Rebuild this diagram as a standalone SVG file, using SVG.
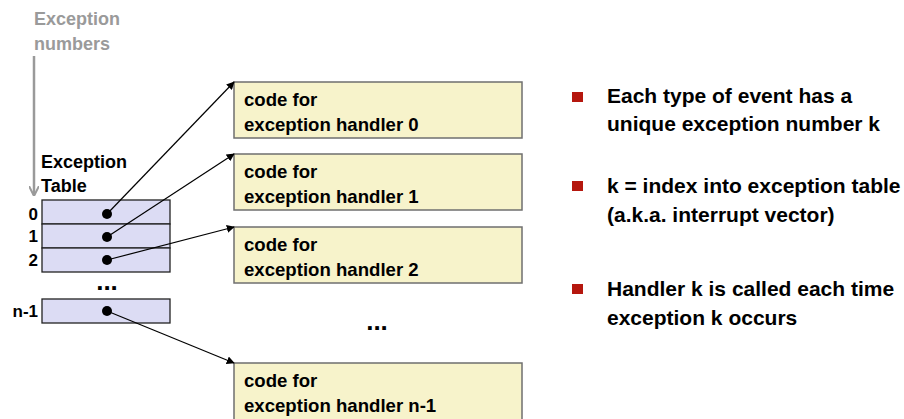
<svg xmlns="http://www.w3.org/2000/svg" width="904" height="419" viewBox="0 0 904 419">
  <style>
    .t { font-family: "Liberation Sans", Arial, sans-serif; font-weight: bold; fill: #000; }
    .code { font-size: 18.6px; }
    .note { font-size: 21px; }
    .handler { fill: #f7f3cb; stroke: #6f6f6f; stroke-width: 1.5; }
    .slot { fill: #dcdcf4; stroke: #222; stroke-width: 1.3; }
    .conn { stroke: #000; stroke-width: 1.2; fill: none; marker-end: url(#arrow); }
    .bullet { fill: #b5170e; }
  </style>
  <defs>
    <marker id="arrow" viewBox="0 0 10 10" refX="9" refY="5" markerWidth="8" markerHeight="8" markerUnits="userSpaceOnUse" orient="auto">
      <path d="M0,0 L10,5 L0,10 z" fill="#000"/>
    </marker>
    <marker id="garrow" viewBox="0 0 10 10" refX="9" refY="5" markerWidth="10" markerHeight="10" markerUnits="userSpaceOnUse" orient="auto">
      <path d="M0,0 L10,5 L0,10" fill="none" stroke="#9a9a9a" stroke-width="2"/>
    </marker>
  </defs>

  <!-- exception number axis -->
  <g id="exception-numbers">
    <text class="t" x="34" y="25" font-size="18" style="fill:#9a9a9a">Exception</text>
    <text class="t" x="34" y="50" font-size="18" style="fill:#9a9a9a">numbers</text>
    <line x1="34" y1="56" x2="34" y2="195" stroke="#9a9a9a" stroke-width="2.5" marker-end="url(#garrow)"/>
  </g>

  <!-- exception table -->
  <g id="exception-table">
    <text class="t" x="41" y="168" font-size="18">Exception</text>
    <text class="t" x="41" y="192" font-size="18">Table</text>
    <rect class="slot" x="42" y="200" width="128" height="24"/>
    <rect class="slot" x="42" y="224" width="128" height="24"/>
    <rect class="slot" x="42" y="248" width="128" height="24"/>
    <rect class="slot" x="42" y="299" width="128" height="24"/>
    <text class="t" x="38" y="220" font-size="17" text-anchor="end">0</text>
    <text class="t" x="38" y="242" font-size="17" text-anchor="end">1</text>
    <text class="t" x="38" y="266" font-size="17" text-anchor="end">2</text>
    <text class="t" x="38" y="317" font-size="17" text-anchor="end">n-1</text>
    <text class="t" x="107" y="290" font-size="26" text-anchor="middle">...</text>
    <circle cx="107" cy="214" r="5"/>
    <circle cx="107" cy="237" r="5"/>
    <circle cx="107" cy="260" r="5"/>
    <circle cx="107" cy="311" r="5"/>
  </g>

  <!-- handler code blocks -->
  <g id="handler-0">
    <rect class="handler" x="234" y="82" width="288" height="56"/>
    <text class="t code" x="244" y="106">code for</text>
    <text class="t code" x="244" y="131">exception handler 0</text>
  </g>
  <g id="handler-1">
    <rect class="handler" x="234" y="154" width="288" height="56"/>
    <text class="t code" x="244" y="178">code for</text>
    <text class="t code" x="244" y="203">exception handler 1</text>
  </g>
  <g id="handler-2">
    <rect class="handler" x="234" y="227" width="288" height="56"/>
    <text class="t code" x="244" y="251">code for</text>
    <text class="t code" x="244" y="276">exception handler 2</text>
  </g>
  <g id="handler-gap">
    <text class="t" x="377" y="330" font-size="26" text-anchor="middle">...</text>
  </g>
  <g id="handler-n-1">
    <rect class="handler" x="234" y="363" width="288" height="60"/>
    <text class="t code" x="244" y="387">code for</text>
    <text class="t code" x="244" y="412">exception handler n-1</text>
  </g>

  <!-- table entries point at handlers -->
  <g id="connectors">
    <line class="conn" x1="107" y1="214" x2="234" y2="82"/>
    <line class="conn" x1="107" y1="237" x2="234" y2="154"/>
    <line class="conn" x1="107" y1="260" x2="234" y2="227"/>
    <line class="conn" x1="107" y1="311" x2="234" y2="363"/>
  </g>

  <!-- notes -->
  <g id="notes">
    <rect class="bullet" x="572" y="92" width="11" height="10"/>
    <text class="t note" x="607" y="103">Each type of event has a</text>
    <text class="t note" x="607" y="131">unique exception number k</text>
    <rect class="bullet" x="572" y="181" width="11" height="10"/>
    <text class="t note" x="607" y="193">k = index into exception table</text>
    <text class="t note" x="607" y="222">(a.k.a. interrupt vector)</text>
    <rect class="bullet" x="572" y="284" width="11" height="10"/>
    <text class="t note" x="607" y="296">Handler k is called each time</text>
    <text class="t note" x="607" y="325">exception k occurs</text>
  </g>
</svg>
